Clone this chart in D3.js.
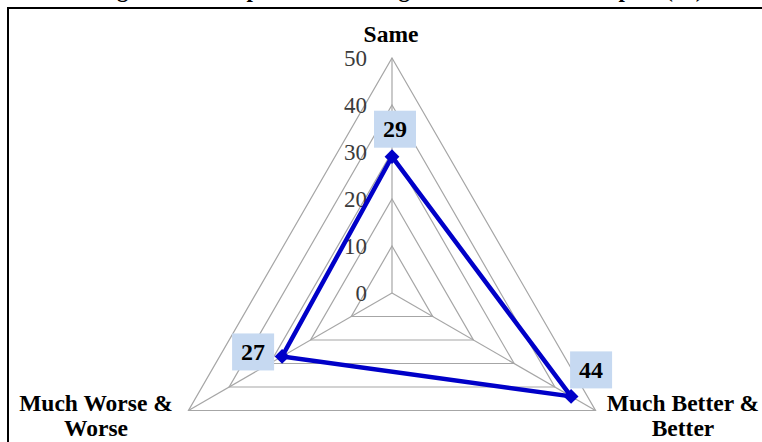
<!DOCTYPE html>
<html>
<head>
<meta charset="utf-8">
<script src="https://cdn.jsdelivr.net/npm/d3@7"></script>
<style>
  html, body { margin: 0; padding: 0; background: #fff; }
  svg { display: block; }
</style>
</head>
<body>
<svg id="chart" width="762" height="442"></svg>
<script>
// ---- data ----
const categories = ["Same", "Much Better & Better", "Much Worse & Worse"];
const categoryLines = [["Same"], ["Much Better &", "Better"], ["Much Worse &", "Worse"]];
const values = [29, 44, 27];
const tickValues = [0, 10, 20, 30, 40, 50];
const titleText = "Figure 4: Perception of Housing Conditions in Retrospect (%)";

// ---- layout ----
const W = 762, H = 442;
const cx = 392, cy = 293, R = 235;
const serif = "'Liberation Serif', 'Times New Roman', serif";

const svg = d3.select("#chart");

const r = d3.scaleLinear().domain([0, 50]).range([0, R]);
const angle = d3.scaleOrdinal().domain(categories)
  .range([-Math.PI / 2, Math.PI / 6, 5 * Math.PI / 6]);

function pt(cat, v) {
  const a = angle(cat);
  return [cx + r(v) * Math.cos(a), cy + r(v) * Math.sin(a)];
}

// title (clipped at top as in the source image)
svg.append("text")
  .attr("x", 400).attr("y", -3)
  .attr("text-anchor", "middle")
  .attr("font-family", serif).attr("font-weight", "bold").attr("font-size", 23)
  .text(titleText);

// frame
svg.append("rect")
  .attr("x", 8).attr("y", 8).attr("width", W).attr("height", H)
  .attr("fill", "none").attr("stroke", "#000").attr("stroke-width", 2);

// grid rings
const grid = svg.append("g");
tickValues.filter(t => t > 0).forEach(t => {
  grid.append("path")
    .attr("d", d3.line()(categories.map(c => pt(c, t))) + "Z")
    .attr("fill", "none").attr("stroke", "#a6a6a6").attr("stroke-width", 1.2);
});
// spokes
categories.forEach(c => {
  const p = pt(c, 50);
  grid.append("line")
    .attr("x1", cx).attr("y1", cy).attr("x2", p[0]).attr("y2", p[1])
    .attr("stroke", "#a6a6a6").attr("stroke-width", 1.2);
});

// tick labels
svg.append("g").selectAll("text").data(tickValues).join("text")
  .attr("x", cx - 25)
  .attr("y", d => cy - r(d))
  .attr("dy", "0.35em")
  .attr("text-anchor", "end")
  .attr("font-family", serif).attr("font-size", 23)
  .attr("fill", "#3b3b3b")
  .text(d => d);

// series
const pts = categories.map((c, i) => pt(c, values[i]));
svg.append("path")
  .attr("d", d3.line()(pts) + "Z")
  .attr("fill", "none").attr("stroke", "#0000c8").attr("stroke-width", 4.5)
  .attr("stroke-linejoin", "miter");

svg.append("g").selectAll("path").data(pts).join("path")
  .attr("transform", d => `translate(${d[0]},${d[1]})`)
  .attr("d", d3.symbol(d3.symbolDiamond2, 140)())
  .attr("fill", "#0000c8");

// data labels
const labelOffsets = [[3, -28], [20, -27], [-29, -5]];
const lbl = svg.append("g").selectAll("g").data(pts).join("g")
  .attr("transform", (d, i) => `translate(${d[0] + labelOffsets[i][0]},${d[1] + labelOffsets[i][1]})`);
lbl.append("rect")
  .attr("x", -21).attr("y", -18).attr("width", 42).attr("height", 37)
  .attr("fill", "#c6d9f1");
lbl.append("text")
  .attr("text-anchor", "middle").attr("dy", "0.35em")
  .attr("font-family", serif).attr("font-weight", "bold").attr("font-size", 24)
  .attr("fill", "#000")
  .text((d, i) => values[i]);

// category labels
const catPos = [[391, 42], [683, 411], [96, 411]];
categories.forEach((c, i) => {
  const t = svg.append("text")
    .attr("x", catPos[i][0]).attr("y", catPos[i][1])
    .attr("text-anchor", "middle")
    .attr("font-family", serif).attr("font-weight", "bold").attr("font-size", 23.5)
    .attr("fill", "#000");
  categoryLines[i].forEach((line, j) => {
    t.append("tspan").attr("x", catPos[i][0]).attr("dy", j === 0 ? 0 : 25).text(line);
  });
});
</script>
</body>
</html>
